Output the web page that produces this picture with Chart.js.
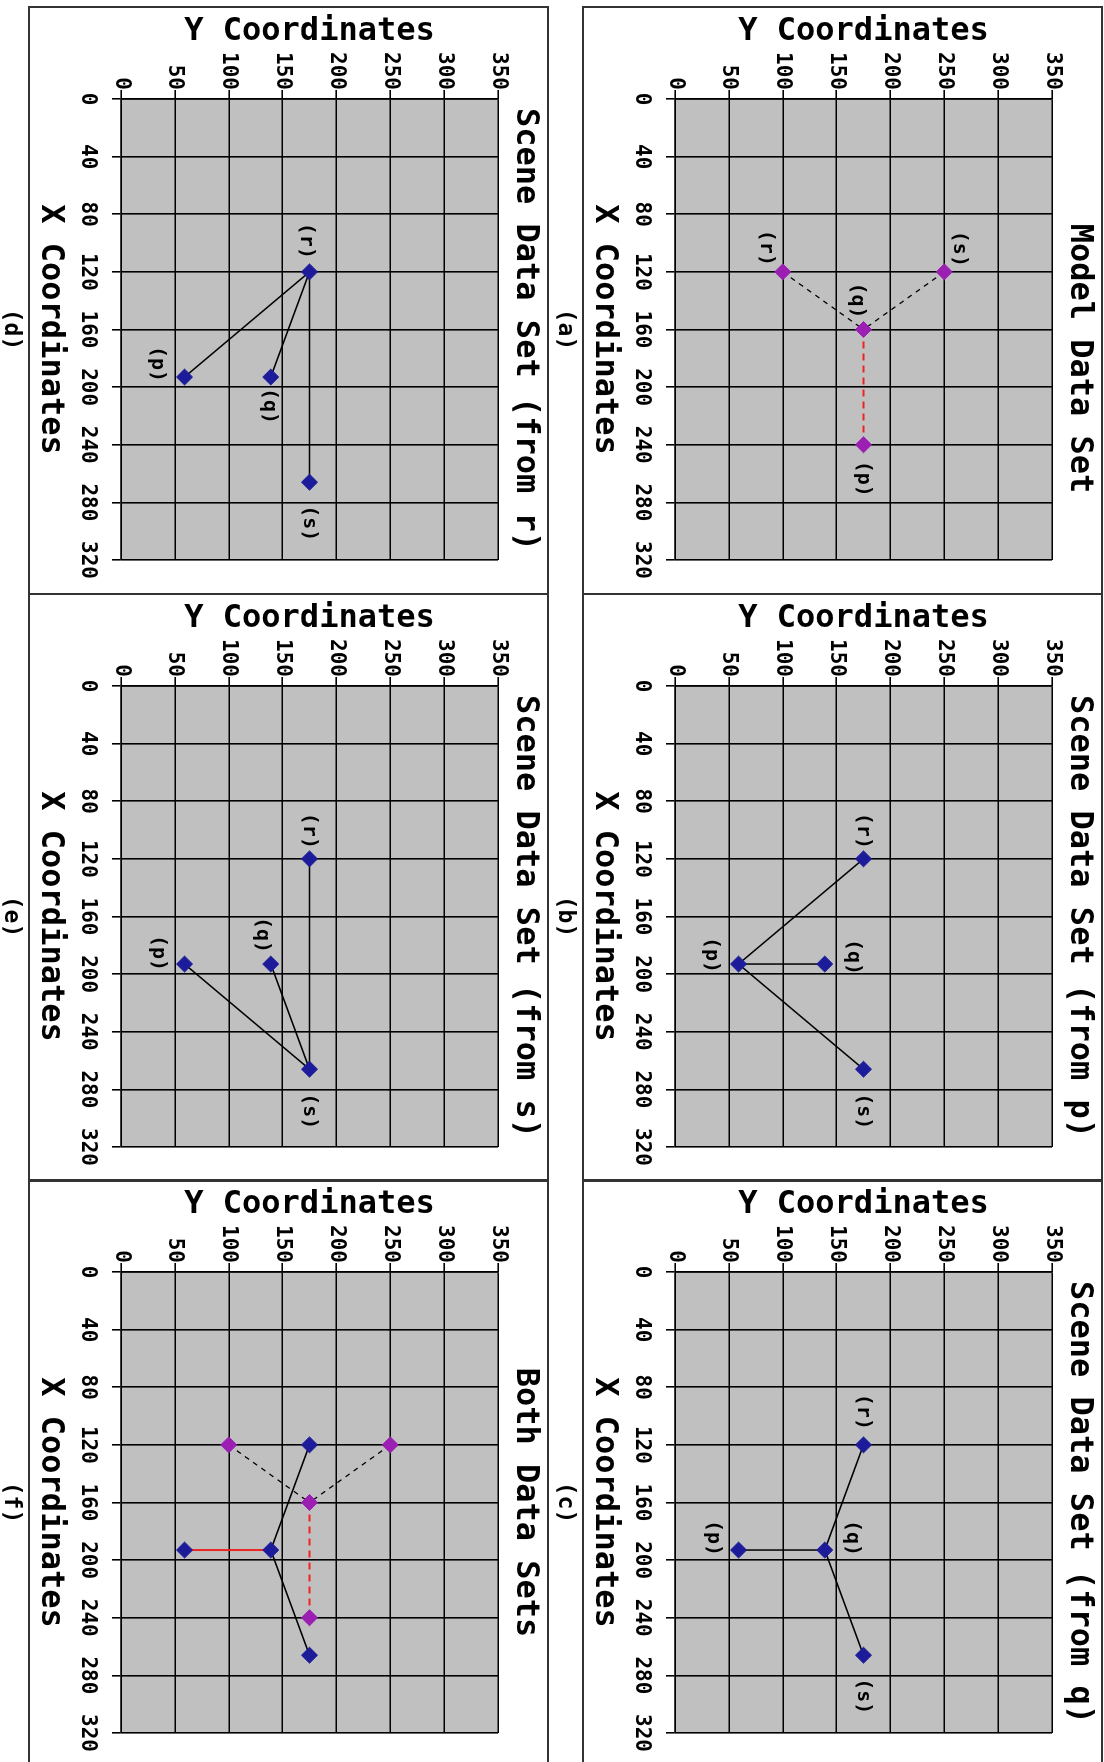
<!DOCTYPE html>
<html>
<head>
<meta charset="utf-8">
<script src="https://cdn.jsdelivr.net/npm/chart.js@4.4.1/dist/chart.umd.min.js"></script>
<style>
html, body { margin: 0; padding: 0; background: #fff; }
body { width: 1104px; height: 1762px; overflow: hidden; position: relative; }
/* the figure is laid out landscape and turned a quarter clockwise */
#page {
    position: absolute; left: 0; top: 0; width: 1762px; height: 1104px;
    transform-origin: 0 0; transform: translate(1104px, 0) rotate(90deg);
    overflow: hidden;
}
.box { position: absolute; box-sizing: border-box; border: 2px solid #333; width: 589px; height: 521px; }
.cv { position: absolute; }
</style>
</head>
<body>
<div id="page"></div>
<script>
// point order used by every array below
const pointNames = ['p', 'q', 'r', 's'];

// model data set
const modelX = [240, 160, 120, 120];
const modelY = [175, 175, 100, 250];

// scene data set
const sceneX = [193, 193, 120, 266];
const sceneY = [59, 139, 175, 175];

const xTicks = [0, 40, 80, 120, 160, 200, 240, 280, 320];
const yTicks = [0, 50, 100, 150, 200, 250, 300, 350];

const panelTitles = [
    'Model Data Set',
    'Scene Data Set (from p)',
    'Scene Data Set (from q)',
    'Scene Data Set (from r)',
    'Scene Data Set (from s)',
    'Both Data Sets'
];
const panelCaptions = ['(a)', '(b)', '(c)', '(d)', '(e)', '(f)'];

// which points are joined in each panel
const modelLinks = [['r', 'q'], ['s', 'q'], ['q', 'p']];
const linksFromP = [['p', 'r'], ['p', 'q'], ['p', 's']];
const linksFromQ = [['q', 'r'], ['q', 'p'], ['q', 's']];
const linksFromR = [['r', 'p'], ['r', 'q'], ['r', 's']];
const linksFromS = [['s', 'r'], ['s', 'q'], ['s', 'p']];
const bothSceneLinks = [['r', 'q'], ['q', 's'], ['q', 'p']];

const MODEL_COLOR = '#9a1fb2';
const SCENE_COLOR = '#1c1c9a';
const RED = '#ee2424';

Chart.defaults.font.family = "'DejaVu Sans Mono', monospace";
Chart.defaults.font.weight = 'bold';
Chart.defaults.color = '#000';

function pts(xs, ys) {
    return xs.map((x, i) => ({ x: x, y: ys[i] }));
}

function linkSet(xs, ys, pair, color, dash, width) {
    const i = pointNames.indexOf(pair[0]);
    const j = pointNames.indexOf(pair[1]);
    return {
        data: [{ x: xs[i], y: ys[i] }, { x: xs[j], y: ys[j] }],
        showLine: true, borderColor: color, borderWidth: width, borderDash: dash,
        pointRadius: 0, pointHoverRadius: 0, fill: false, order: 2
    };
}

function pointSet(xs, ys, color) {
    return {
        data: pts(xs, ys), showLine: false, pointStyle: 'rectRot',
        pointRadius: 8, pointHoverRadius: 8, backgroundColor: color,
        borderColor: color, borderWidth: 1, order: 0
    };
}

function modelSets() {
    return modelLinks.map(l => {
        const red = l[0] === 'q' && l[1] === 'p';
        return linkSet(modelX, modelY, l, red ? RED : '#000', red ? [7, 5] : [5, 5], red ? 2 : 1.3);
    });
}

function sceneSets(links, redQP) {
    return links.map(l => {
        const red = redQP && l[0] === 'q' && l[1] === 'p';
        return linkSet(sceneX, sceneY, l, red ? RED : '#000', [], red ? 2 : 1.5);
    });
}

// per panel: datasets, label offsets (px, right / down) in pointNames order
const panels = [
    { sets: [...modelSets(), pointSet(modelX, modelY, MODEL_COLOR)], titleShift: 29,
      labelOff: [[34, 0], [-29, 6], [-24, 17], [-23, -15]] },
    { sets: [...sceneSets(linksFromP), pointSet(sceneX, sceneY, SCENE_COLOR)], titleShift: 0,
      labelOff: [[-9, 27], [-7, -28], [-28, 0], [42, 0]] },
    { sets: [...sceneSets(linksFromQ), pointSet(sceneX, sceneY, SCENE_COLOR)], titleShift: 0,
      labelOff: [[-12, 25], [-12, -27], [-33, 0], [41, 0]] },
    { sets: [...sceneSets(linksFromR), pointSet(sceneX, sceneY, SCENE_COLOR)], titleShift: 0,
      labelOff: [[-13, 27], [29, 2], [-31, 3], [41, 0]] },
    { sets: [...sceneSets(linksFromS), pointSet(sceneX, sceneY, SCENE_COLOR)], titleShift: 0,
      labelOff: [[-11, 26], [-29, 9], [-28, 0], [42, 0]] },
    { sets: [...modelSets(), ...sceneSets(bothSceneLinks, true),
             pointSet(modelX, modelY, MODEL_COLOR), pointSet(sceneX, sceneY, SCENE_COLOR)],
      titleShift: 0, labelOff: null }
];

const plotBg = {
    id: 'plotBg',
    beforeDraw(chart) {
        const a = chart.chartArea, ctx = chart.ctx;
        ctx.save();
        ctx.fillStyle = '#c0c0c0';
        ctx.fillRect(a.left, a.top, a.right - a.left, a.bottom - a.top);
        ctx.restore();
    }
};

// panel title, point labels and the (a)..(f) caption under the frame
const texts = {
    id: 'texts',
    afterDraw(chart, args, opts) {
        const a = chart.chartArea, ctx = chart.ctx;
        const cx = (a.left + a.right) / 2;
        ctx.save();
        ctx.fillStyle = '#000';
        ctx.textAlign = 'center';
        ctx.textBaseline = 'middle';
        ctx.font = "bold 32px 'DejaVu Sans Mono'";
        ctx.fillText(opts.title, cx + opts.shift, 24);
        if (opts.labelOff) {
            const meta = chart.getDatasetMeta(chart.data.datasets.length - 1);
            ctx.font = "bold 20px 'DejaVu Sans Mono'";
            meta.data.forEach((el, i) => {
                ctx.fillText('(' + pointNames[i] + ')', el.x + opts.labelOff[i][0], el.y + opts.labelOff[i][1]);
            });
        }
        ctx.font = "bold 23px 'DejaVu Sans Mono'";
        ctx.fillText(opts.caption, cx, 538);
        ctx.restore();
    }
};

const page = document.getElementById('page');
const colLeft = [6, 593, 1179];
const rowTop = [1, 555];

panels.forEach((panel, k) => {
    const col = k % 3, row = Math.floor(k / 3);
    const left = colLeft[col], top = rowTop[row];

    const box = document.createElement('div');
    box.className = 'box';
    box.style.left = left + 'px';
    box.style.top = top + 'px';
    page.appendChild(box);

    const cv = document.createElement('canvas');
    cv.className = 'cv';
    cv.width = 587; cv.height = 552;
    cv.style.left = left + 'px';
    cv.style.top = top + 'px';
    cv.style.width = '587px'; cv.style.height = '552px';
    page.appendChild(cv);

    new Chart(cv, {
        type: 'scatter',
        data: { datasets: panel.sets },
        options: {
            responsive: false,
            animation: false,
            devicePixelRatio: 1,
            events: [],
            layout: { padding: { left: 0, top: 51, right: 33, bottom: 32 } },
            plugins: {
                legend: { display: false },
                tooltip: { enabled: false },
                texts: { title: panelTitles[k], caption: panelCaptions[k],
                         shift: panel.titleShift, labelOff: panel.labelOff }
            },
            scales: {
                x: {
                    type: 'linear', min: 0, max: 320,
                    afterBuildTicks: s => { s.ticks = xTicks.map(v => ({ value: v })); },
                    afterFit: s => { s.height = 92; },
                    ticks: { font: { size: 21 }, color: '#000', padding: 12, maxRotation: 0, autoSkip: false },
                    grid: { color: '#000', lineWidth: 1.6, tickLength: 9 },
                    border: { color: '#000', width: 1.6 },
                    title: { display: true, text: 'X Coordinates', color: '#000',
                             font: { size: 32, lineHeight: 1 }, padding: { top: 0, bottom: 5 } }
                },
                y: {
                    type: 'linear', min: 0, max: 350,
                    afterBuildTicks: s => { s.ticks = yTicks.map(v => ({ value: v })); },
                    afterFit: s => { s.width = 93; },
                    ticks: { font: { size: 21 }, color: '#000', padding: 0, autoSkip: false },
                    grid: { color: '#000', lineWidth: 1.6, tickLength: 9 },
                    border: { color: '#000', width: 1.6 },
                    title: { display: true, text: 'Y Coordinates', color: '#000',
                             font: { size: 32, lineHeight: 1 }, padding: { top: 10, bottom: 0 } }
                }
            }
        },
        plugins: [plotBg, texts]
    });
});
</script>
</body>
</html>
